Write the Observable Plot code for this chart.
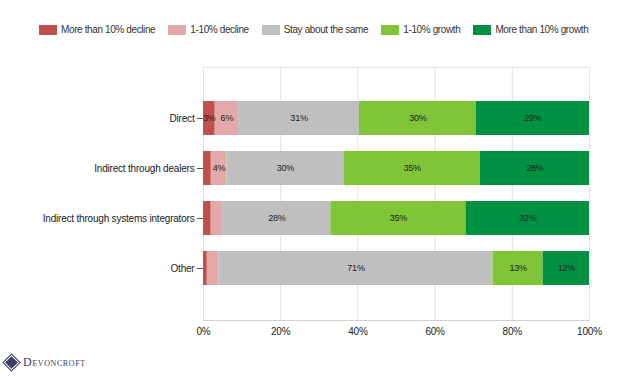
<!DOCTYPE html>
<html>
<head>
<meta charset="utf-8">
<script src="https://cdn.jsdelivr.net/npm/d3@7"></script>
<script src="https://cdn.jsdelivr.net/npm/@observablehq/plot@0.6"></script>
<style>
  html, body { margin: 0; padding: 0; background: #fff; }
  #wrap { position: relative; width: 628px; height: 378px; overflow: hidden; font-family: "Liberation Sans", Arial, sans-serif; }
  #legend { position: absolute; top: 24px; left: 39px; display: flex; font-size: 10px; color: #333; white-space: nowrap; line-height: 12px; letter-spacing: -0.38px; }
  .item { display: flex; align-items: center; margin-right: 13px; }
  .sw { width: 18px; height: 10px; margin-right: 4px; }
  #logo { position: absolute; left: 3px; top: 355px; display: flex; align-items: center; color: #3d3d66; }
  #logo .dia { width: 9px; height: 9px; background: #3d3d66; transform: rotate(45deg); margin: 0 6px 0 3px; border: 1px solid #fff; outline: 1px solid #3d3d66; }
  #logo .name { font-family: "Liberation Serif", "DejaVu Serif", serif; font-variant: small-caps; font-size: 12px; letter-spacing: 0.6px; }
  #chart { position: absolute; top: 0; left: 0; }
</style>
</head>
<body>
<div id="wrap">
  <div id="chart"></div>
  <div id="legend"></div>
  <div id="logo"><div class="dia"></div><div class="name">Devoncroft</div></div>
</div>
<script>
const categories = ["Direct", "Indirect through dealers", "Indirect through systems integrators", "Other"];
const series = ["More than 10% decline", "1-10% decline", "Stay about the same", "1-10% growth", "More than 10% growth"];
const colors = ["#c0504d", "#e2a9a8", "#bfbfbf", "#80c437", "#009242"];
const declineBig   = [3, 2, 2, 1];
const declineSmall = [6, 4, 3, 3];
const same         = [31, 30, 28, 71];
const growthSmall  = [30, 35, 35, 13];
const growthBig    = [29, 28, 32, 12];
const xTicks = [0, 0.2, 0.4, 0.6, 0.8, 1];
const xTickLabels = ["0%", "20%", "40%", "60%", "80%", "100%"];
// segments whose value label is not printed in the reference
const unlabelled = [
  ["Indirect through dealers", "More than 10% decline"],
  ["Indirect through systems integrators", "More than 10% decline"],
  ["Indirect through systems integrators", "1-10% decline"],
  ["Other", "More than 10% decline"],
  ["Other", "1-10% decline"]
];

const seriesValues = [declineBig, declineSmall, same, growthSmall, growthBig];
const data = [];
categories.forEach((c, i) => {
  series.forEach((s, j) => {
    const v = seriesValues[j][i];
    const hide = unlabelled.some(([uc, us]) => uc === c && us === s);
    data.push({category: c, series: s, value: v, label: hide ? "" : `${v}%`});
  });
});

const stackOpts = {x: "value", y: "category", z: "series", offset: "normalize", order: series};

const plot = Plot.plot({
  width: 628,
  height: 378,
  marginLeft: 203,
  marginRight: 39,
  marginTop: 67,
  marginBottom: 58,
  style: {fontFamily: "'Liberation Sans', Arial, sans-serif", fontSize: "10px", color: "#222", background: "transparent", letterSpacing: "-0.2px"},
  x: {domain: [0, 1], ticks: xTicks, tickFormat: (d) => xTickLabels[xTicks.indexOf(d)]},
  y: {domain: categories, range: [93, 293], paddingInner: 0.32, paddingOuter: 0.16, label: null},
  color: {domain: series, range: colors},
  marks: [
    Plot.gridX(xTicks, {stroke: "#e0e0e0", strokeOpacity: 1, strokeWidth: 1}),
    Plot.frame({stroke: "#e3e3e3"}),
    Plot.frame({anchor: "bottom", stroke: "#d0d0d0"}),
    Plot.barX(data, Plot.stackX({...stackOpts, fill: "series", inset: 0})),
    Plot.text(data, Plot.stackX({...stackOpts, text: "label", fill: "#222", fontSize: 9})),
    Plot.axisX(xTicks, {tickSize: 0, tickPadding: 7, label: null, fontSize: 10, tickFormat: (d) => xTickLabels[xTicks.indexOf(d)]}),
    Plot.axisY({tickSize: 6, tickPadding: 3, stroke: "#555", label: null, fontSize: 10})
  ]
});
document.getElementById("chart").appendChild(plot);

const legend = document.getElementById("legend");
series.forEach((s, j) => {
  const it = document.createElement("div");
  it.className = "item";
  const sw = document.createElement("div");
  sw.className = "sw";
  sw.style.background = colors[j];
  const t = document.createElement("span");
  t.textContent = s;
  it.appendChild(sw);
  it.appendChild(t);
  legend.appendChild(it);
});
</script>
</body>
</html>
